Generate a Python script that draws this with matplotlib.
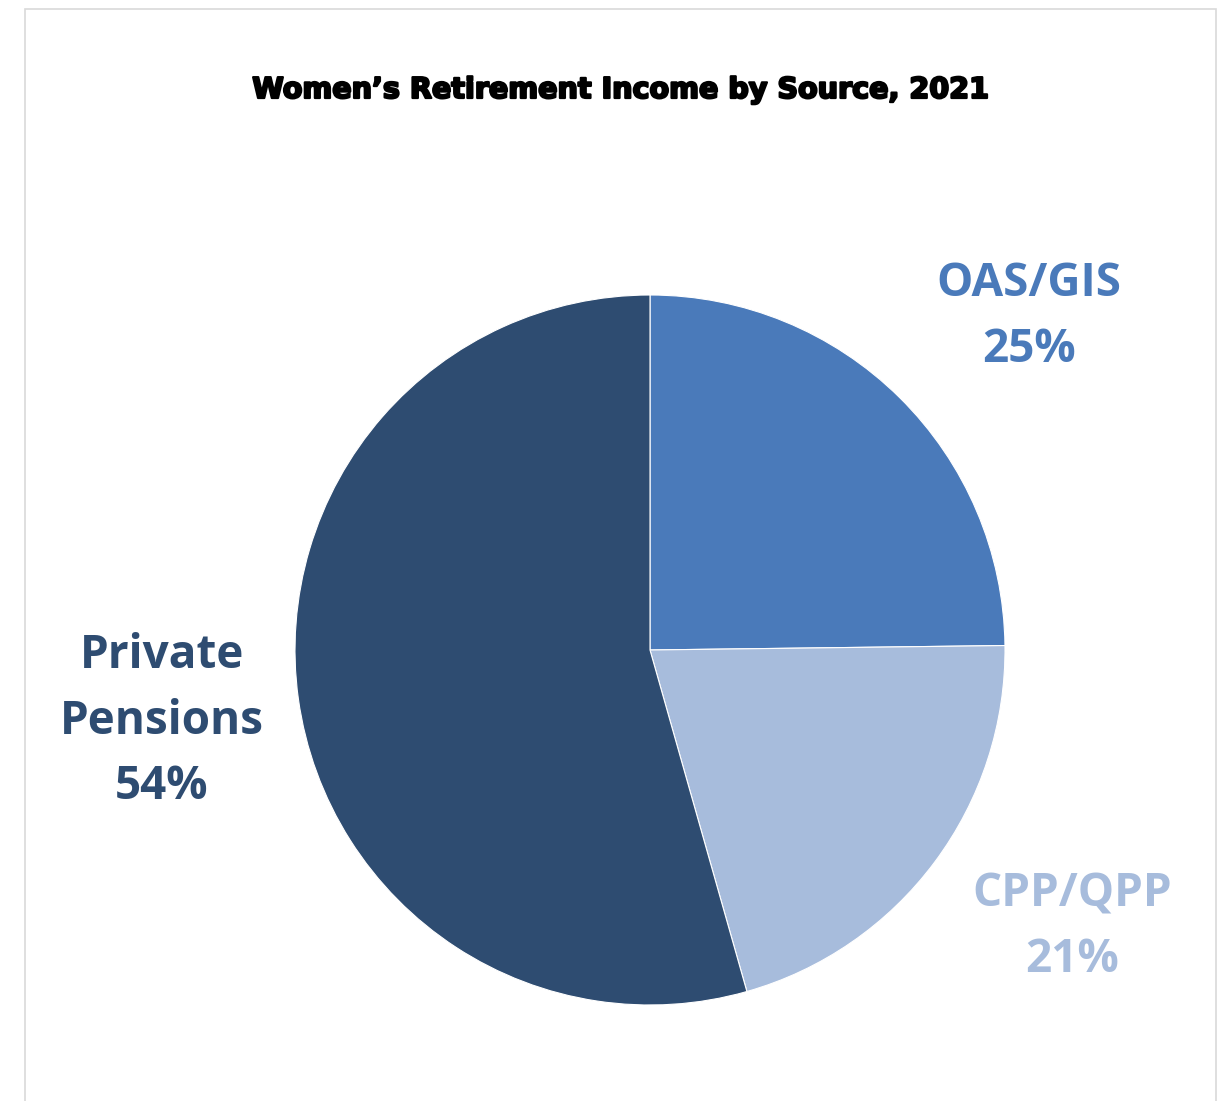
import matplotlib
matplotlib.use("Agg")
from matplotlib import pyplot as plt
from matplotlib.patches import Rectangle
from matplotlib import patheffects as pe

# data
sources = ["OAS/GIS", "CPP/QPP", "Private\nPensions"]
shares = [24.8, 20.8, 54.4]
colors = ["#4A7ABA", "#A7BCDC", "#2E4C71"]
title = "Women\u2019s Retirement Income by Source, 2021"

# label anchors in pie units (radius 1)
label_pos = [(1.068, 0.94), (1.189, -0.78), (-1.375, -0.2)]

fig = plt.figure(figsize=(12.18, 11.01), dpi=100)
fig.patch.set_facecolor("white")

# light chart frame
fig.patches.append(Rectangle((25 / 1218, -0.05), 1191 / 1218, 1.05 - 9 / 1101,
                             transform=fig.transFigure, fill=False,
                             edgecolor="#D9D9D9", linewidth=1.2))

ax = fig.add_axes([295 / 1218, (1101 - 1005) / 1101, 710 / 1218, 710 / 1101])
ax.pie(shares, colors=colors, startangle=90, counterclock=False,
       wedgeprops=dict(edgecolor="white", linewidth=0.8))
ax.set_xlim(-1, 1)
ax.set_ylim(-1, 1)
ax.set_aspect("equal")
ax.axis("off")

for name, val, col, (x, y) in zip(sources, shares, colors, label_pos):
    ax.text(x, y, f"{name}\n{round(val)}%", color=col, ha="center", va="center",
            fontsize=33, fontweight="bold", family="Open Sans",
            linespacing=1.52, clip_on=False)

fig.text(621 / 1218, 1 - 90 / 1101, title, ha="center", va="center",
         fontsize=20.6, fontweight="bold", family="DejaVu Sans",
         path_effects=[pe.withStroke(linewidth=1.6, foreground="black")])

fig.savefig("out.png", dpi=100)
